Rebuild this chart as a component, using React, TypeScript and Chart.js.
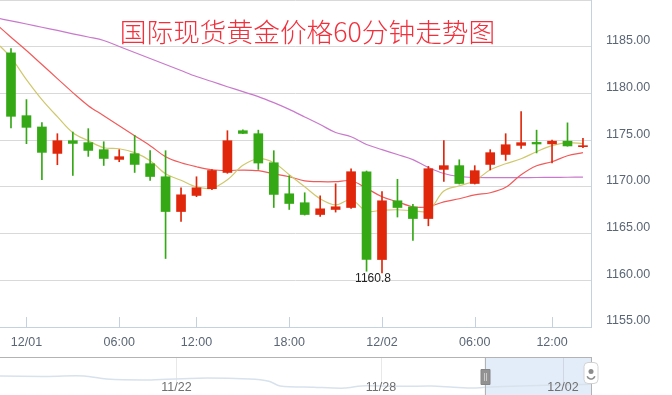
import React, { useEffect, useRef } from 'react';
import { Chart, registerables } from 'chart.js';

Chart.register(...registerables);

const TITLE = '国际现货黄金价格60分钟走势图';

// hourly candles (Beijing time)
const times = [
  '11/30 23:00', '12/01 00:00', '12/01 01:00', '12/01 02:00', '12/01 03:00', '12/01 04:00', '12/01 05:00', '12/01 06:00',
  '12/01 08:00', '12/01 09:00', '12/01 10:00', '12/01 11:00', '12/01 12:00', '12/01 13:00', '12/01 14:00', '12/01 15:00',
  '12/01 16:00', '12/01 17:00', '12/01 18:00', '12/01 19:00', '12/01 20:00', '12/01 21:00', '12/01 22:00', '12/01 23:00',
  '12/02 00:00', '12/02 01:00', '12/02 02:00', '12/02 03:00', '12/02 04:00', '12/02 05:00', '12/02 06:00',
  '12/02 08:00', '12/02 09:00', '12/02 10:00', '12/02 11:00', '12/02 12:00', '12/02 13:00', '12/02 14:00',
];

const open = [
  1184.34, 1177.62, 1176.41, 1173.58, 1174.94, 1174.73, 1173.98, 1172.94, 1173.55, 1172.48,
  1171.08, 1167.36, 1169.08, 1169.80, 1171.54, 1176.01, 1175.69, 1172.58, 1169.26, 1168.30,
  1167.04, 1167.58, 1167.79, 1171.62, 1162.22, 1168.51, 1167.85, 1166.61, 1171.87, 1172.27,
  1170.36, 1172.40, 1173.47, 1174.44, 1174.76, 1174.60, 1174.89, 1174.30,
];
const high = [
  1184.80, 1179.34, 1176.87, 1175.69, 1175.87, 1176.23, 1174.83, 1173.98, 1175.51, 1173.87,
  1173.87, 1169.90, 1171.08, 1171.85, 1176.01, 1176.10, 1176.07, 1173.87, 1171.19, 1169.37,
  1169.05, 1170.33, 1171.94, 1171.70, 1169.50, 1170.81, 1168.13, 1172.19, 1174.94, 1172.90,
  1172.27, 1173.98, 1175.69, 1178.05, 1176.07, 1175.00, 1176.85, 1175.20,
];
const low = [
  1176.30, 1174.62, 1170.76, 1172.37, 1171.22, 1173.26, 1172.29, 1172.69, 1171.54, 1170.69,
  1162.33, 1166.29, 1168.95, 1169.70, 1171.45, 1175.68, 1171.87, 1167.79, 1167.58, 1166.98,
  1166.83, 1167.30, 1167.70, 1160.97, 1160.80, 1166.77, 1164.26, 1165.83, 1170.58, 1170.30,
  1170.30, 1171.81, 1172.83, 1174.12, 1173.63, 1172.55, 1174.35, 1174.20,
];
const close = [
  1177.55, 1176.37, 1173.69, 1174.94, 1174.65, 1173.90, 1173.04, 1173.23, 1172.40, 1171.11,
  1167.36, 1169.15, 1169.90, 1171.75, 1174.94, 1175.72, 1172.55, 1169.19, 1168.22, 1167.04,
  1167.65, 1167.87, 1171.62, 1162.22, 1168.51, 1167.79, 1166.61, 1171.94, 1172.27, 1170.36,
  1171.73, 1173.66, 1174.51, 1174.73, 1174.59, 1174.89, 1174.38, 1174.40,
];

// moving averages: first value belongs to the hour before the visible window
const ma5 = [
  1185.55, 1183.84, 1181.48, 1179.34, 1177.51, 1175.80, 1174.94, 1174.19, 1174.08, 1173.66,
  1172.80, 1171.40, 1170.70, 1170.00, 1169.85, 1170.75, 1172.30, 1173.01, 1172.58, 1171.30,
  1170.01, 1168.73, 1168.08, 1168.62, 1167.40, 1167.50, 1167.55, 1167.44, 1167.45, 1169.55,
  1170.12, 1170.65, 1171.83, 1172.47, 1173.01, 1173.76, 1174.41, 1174.73, 1174.62,
];
const ma10 = [
  1187.48, 1186.02, 1184.59, 1183.09, 1181.59, 1180.09, 1178.69, 1177.62, 1176.55, 1175.48,
  1174.41, 1173.23, 1172.58, 1172.15, 1171.83, 1171.75, 1171.80, 1171.73, 1171.40, 1171.08,
  1170.65, 1170.55, 1170.55, 1170.65, 1169.85, 1168.94, 1168.40, 1167.87, 1167.87, 1168.40,
  1168.73, 1169.15, 1169.37, 1169.95, 1171.30, 1172.26, 1172.69, 1173.33, 1173.66,
];
const ma30 = [
  1188.10, 1187.77, 1187.43, 1187.08, 1186.74, 1186.38, 1186.04, 1185.67, 1185.02, 1184.38,
  1183.74, 1183.10, 1182.45, 1181.81, 1181.28, 1180.72, 1180.19, 1179.66, 1179.01, 1178.29,
  1177.48, 1176.67, 1175.82, 1175.36, 1174.53, 1173.99, 1173.46, 1172.92, 1172.07, 1171.43,
  1171.11, 1171.00, 1170.98, 1170.98, 1170.99, 1171.00, 1171.01, 1171.03, 1171.05,
];

const yTickValues = [1155, 1160, 1165, 1170, 1175, 1180, 1185, 1190];
const tickHours = ['00:00', '06:00', '12:00', '18:00'];

// navigator (hour index over the last weeks, price)
const navIndex = [0, 15, 30, 38, 54, 71, 89, 96, 100, 112, 123, 129, 141, 154, 162, 169, 173, 186, 198, 211];
const navValue = [1194, 1193, 1194, 1187, 1185, 1189, 1187, 1182, 1171, 1168, 1166, 1171, 1170, 1171, 1168, 1166, 1168, 1171, 1173, 1175];
const navTickIndex = [63, 136, 201];
const navTickLabels = ['11/22', '11/28', '12/02'];
const navWindowStart = 173;
const navWindowEnd = 211;

const UP = '#e0270c';
const DOWN = '#34a915';
const AXIS_FONT = '"Liberation Sans", Arial, sans-serif';
const AXIS_COLOR = '#5a6675';
const AXIS_LINE = '#c4d2e0';

const xTickIdx = times.map((t, i) => (tickHours.includes(t.slice(6)) ? i : -1)).filter((i) => i >= 0);
const xTickText = xTickIdx.map((i) => (times[i].slice(6) === '00:00' ? times[i].slice(0, 5) : times[i].slice(6)));

export default function App() {
  const mainRef = useRef<HTMLCanvasElement | null>(null);
  const navRef = useRef<HTMLCanvasElement | null>(null);

  useEffect(() => {
    const idx = times.map((_, i) => i);
    const colors = idx.map((i) => (close[i] >= open[i] ? UP : DOWN));
    const lineData = (arr: number[]) => arr.map((v, k) => ({ x: k - 1, y: v }));

    const decorPlugin = {
      id: 'decor',
      afterDatasetsDraw(chart: any) {
        const { ctx, chartArea, scales } = chart;
        const xs = scales.x;
        const ys = scales.y;
        ctx.save();
        // tick marks pointing into the plot
        ctx.strokeStyle = AXIS_LINE;
        ctx.lineWidth = 1;
        xTickIdx.forEach((v) => {
          const px = Math.round(xs.getPixelForValue(v)) + 0.5;
          ctx.beginPath();
          ctx.moveTo(px, chartArea.bottom - 10);
          ctx.lineTo(px, chartArea.bottom);
          ctx.stroke();
        });
        // lowest price label
        let mi = 0;
        low.forEach((v, i) => { if (v < low[mi]) mi = i; });
        ctx.fillStyle = '#222222';
        ctx.font = '12px ' + AXIS_FONT;
        ctx.textAlign = 'center';
        ctx.textBaseline = 'top';
        ctx.fillText(low[mi].toFixed(1), xs.getPixelForValue(mi) - 9, ys.getPixelForValue(low[mi]));
        // title
        ctx.fillStyle = '#f2303c';
        ctx.font = '300 26.7px "Noto Sans CJK SC", sans-serif';
        ctx.textAlign = 'center';
        ctx.textBaseline = 'middle';
        ctx.fillText(TITLE, 307.5, 31.5);
        ctx.restore();
      },
    };

    const main = new Chart(mainRef.current as HTMLCanvasElement, {
      type: 'bar',
      data: {
        datasets: [
          {
            type: 'bar',
            data: idx.map((i) => ({ x: i, y: [open[i], close[i]] })) as any,
            backgroundColor: colors,
            barThickness: 9,
            minBarLength: 1,
            grouped: false,
            borderWidth: 0,
            order: 0,
          } as any,
          {
            type: 'bar',
            data: idx.map((i) => ({ x: i, y: [low[i], high[i]] })) as any,
            backgroundColor: colors,
            barThickness: 1,
            grouped: false,
            borderWidth: 0,
            order: 1,
          } as any,
          {
            type: 'line',
            data: lineData(ma5) as any,
            borderColor: '#cfc86c',
            borderWidth: 1.2,
            pointRadius: 0,
            tension: 0.35,
            order: 2,
          } as any,
          {
            type: 'line',
            data: lineData(ma10) as any,
            borderColor: '#f25a5a',
            borderWidth: 1.2,
            pointRadius: 0,
            tension: 0.35,
            order: 3,
          } as any,
          {
            type: 'line',
            data: lineData(ma30) as any,
            borderColor: '#c979cc',
            borderWidth: 1.2,
            pointRadius: 0,
            tension: 0.35,
            order: 4,
          } as any,
        ],
      },
      options: {
        animation: false,
        responsive: false,
        events: [],
        layout: { padding: 0 },
        plugins: { legend: { display: false }, tooltip: { enabled: false } },
        scales: {
          x: {
            type: 'linear',
            min: -0.711,
            max: times.length - 1 + 0.52,
            offset: false,
            afterBuildTicks: (s: any) => { s.ticks = xTickIdx.map((v) => ({ value: v })); },
            afterFit: (s: any) => { s.height = 30; s.paddingLeft = 0; s.paddingRight = 0; },
            grid: { display: false, drawTicks: false },
            border: { display: true, color: AXIS_LINE },
            ticks: {
              autoSkip: false,
              maxRotation: 0,
              padding: 8,
              color: AXIS_COLOR,
              font: { family: AXIS_FONT, size: 12.5 },
              callback: (v: any) => xTickText[xTickIdx.indexOf(v)] ?? '',
            },
          },
          y: {
            position: 'right',
            min: 1155,
            max: 1190,
            afterBuildTicks: (s: any) => { s.ticks = yTickValues.map((v) => ({ value: v })); },
            afterFit: (s: any) => { s.width = 81; s.paddingTop = 0; s.paddingBottom = 0; },
            grid: { color: '#d9d9d9', drawTicks: false, lineWidth: 1 },
            border: { display: true, color: AXIS_LINE },
            ticks: {
              padding: 15,
              labelOffset: -6,
              color: AXIS_COLOR,
              font: { family: AXIS_FONT, size: 12.5 },
              callback: (v: any) => (v === yTickValues[yTickValues.length - 1] ? '' : Number(v).toFixed(2)),
            },
          },
        } as any,
      },
      plugins: [decorPlugin],
    });

    const navPlugin = {
      id: 'nav',
      beforeDatasetsDraw(chart: any) {
        const { ctx, chartArea, scales } = chart;
        const xs = scales.x;
        ctx.save();
        const sx = xs.getPixelForValue(navWindowStart);
        ctx.fillStyle = '#e3edf9';
        ctx.fillRect(sx, chartArea.top, chartArea.right - sx, chartArea.bottom - chartArea.top);
        ctx.strokeStyle = 'rgba(0,0,0,0.09)';
        ctx.lineWidth = 1;
        navTickIndex.forEach((v) => {
          const px = Math.round(xs.getPixelForValue(v)) + 0.5;
          ctx.beginPath();
          ctx.moveTo(px, chartArea.top);
          ctx.lineTo(px, chartArea.top + 25);
          ctx.stroke();
        });
        ctx.restore();
      },
      afterDatasetsDraw(chart: any) {
        const { ctx, chartArea, scales } = chart;
        const xs = scales.x;
        ctx.save();
        ctx.fillStyle = '#6f6f6f';
        ctx.font = '12.5px ' + AXIS_FONT;
        ctx.textAlign = 'center';
        ctx.textBaseline = 'middle';
        navTickIndex.forEach((v, k) => {
          ctx.fillText(navTickLabels[k], xs.getPixelForValue(v), chartArea.top + 31);
        });
        ctx.strokeStyle = '#b3b3b3';
        ctx.lineWidth = 1;
        ctx.beginPath();
        ctx.moveTo(chartArea.left, 0.5);
        ctx.lineTo(chartArea.right + 1, 0.5);
        ctx.stroke();
        const sx = Math.round(xs.getPixelForValue(navWindowStart)) + 0.5;
        const ex = Math.round(xs.getPixelForValue(navWindowEnd)) + 0.5;
        ctx.beginPath();
        ctx.moveTo(sx, 0);
        ctx.lineTo(sx, chartArea.bottom);
        ctx.moveTo(ex, 0);
        ctx.lineTo(ex, chartArea.bottom);
        ctx.stroke();
        // left handle
        ctx.fillStyle = '#929292';
        ctx.strokeStyle = '#858585';
        ctx.beginPath();
        ctx.rect(sx - 4.5, 12.5, 9, 15);
        ctx.fill();
        ctx.stroke();
        ctx.strokeStyle = '#c9c9c9';
        ctx.beginPath();
        ctx.moveTo(sx - 1, 16);
        ctx.lineTo(sx - 1, 24);
        ctx.moveTo(sx + 1, 16);
        ctx.lineTo(sx + 1, 24);
        ctx.stroke();
        // right handle
        ctx.fillStyle = '#ffffff';
        ctx.strokeStyle = '#d2d2d2';
        ctx.beginPath();
        (ctx as any).roundRect(ex - 7.5, 5.5, 14, 21, 4);
        ctx.fill();
        ctx.stroke();
        ctx.fillStyle = '#8c8c8c';
        ctx.beginPath();
        ctx.arc(ex - 0.5, 14.5, 2.5, 0, Math.PI * 2);
        ctx.fill();
        ctx.strokeStyle = '#8c8c8c';
        ctx.lineWidth = 1.5;
        ctx.beginPath();
        ctx.arc(ex - 0.5, 18, 4, 0.1 * Math.PI, 0.9 * Math.PI);
        ctx.stroke();
        ctx.restore();
      },
    };

    const nav = new Chart(navRef.current as HTMLCanvasElement, {
      type: 'line',
      data: {
        datasets: [
          {
            data: navIndex.map((x, i) => ({ x, y: navValue[i] })) as any,
            borderColor: '#d8e2ed',
            borderWidth: 1.5,
            pointRadius: 0,
            tension: 0.3,
            fill: false,
          },
        ],
      },
      options: {
        animation: false,
        responsive: false,
        events: [],
        layout: { padding: { left: 0, right: 81, top: 0, bottom: 0 } },
        plugins: { legend: { display: false }, tooltip: { enabled: false } },
        scales: {
          x: { type: 'linear', display: false, min: 0, max: navWindowEnd },
          y: { display: false, min: 1150, max: 1238 },
        } as any,
      },
      plugins: [navPlugin],
    });

    return () => {
      main.destroy();
      nav.destroy();
    };
  }, []);

  return (
    <div style={{ position: 'absolute', left: 0, top: 0, width: 672, height: 395, background: '#fff' }}>
      <canvas ref={mainRef} width={672} height={357} style={{ position: 'absolute', left: 0, top: 0, width: 672, height: 357 }} />
      <canvas ref={navRef} width={672} height={38} style={{ position: 'absolute', left: 0, top: 357, width: 672, height: 38 }} />
    </div>
  );
}
